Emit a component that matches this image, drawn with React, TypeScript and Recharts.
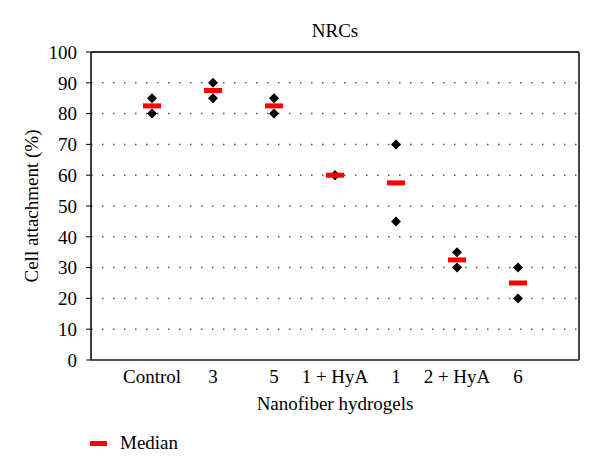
import React from 'react';
import {
  ScatterChart,
  Scatter,
  XAxis,
  YAxis,
  CartesianGrid,
  ReferenceLine,
  Legend,
} from 'recharts';

const categories = ['Control', '3', '5', '1 + HyA', '1', '2 + HyA', '6'];
const upperValues = [85, 90, 85, 60, 70, 35, 30];
const lowerValues = [80, 85, 80, 60, 45, 30, 20];
const medianValues = [82.5, 87.5, 82.5, 60, 57.5, 32.5, 25];
const yTicks = [0, 10, 20, 30, 40, 50, 60, 70, 80, 90, 100];
const xTicks = [1, 2, 3, 4, 5, 6, 7];

// two measurements per hydrogel, medians drawn as red bars
const observations = categories.flatMap((_, i) => [
  { x: i + 1, y: upperValues[i] },
  { x: i + 1, y: lowerValues[i] },
]);
const medians = categories.map((_, i) => ({ x: i + 1, y: medianValues[i] }));

const FONT = 'Liberation Serif';

const Diamond = (props: any) => {
  const { cx, cy } = props;
  const r = 5;
  return (
    <polygon
      points={`${cx},${cy - r} ${cx + r},${cy} ${cx},${cy + r} ${cx - r},${cy}`}
      fill="#000"
    />
  );
};

const MedianBar = (props: any) => {
  const { cx, cy } = props;
  return <rect x={cx - 9} y={cy - 2.5} width={18} height={5} fill="#ff0000" />;
};

const MedianLegend = () => (
  <div
    style={{
      display: 'flex',
      alignItems: 'center',
      height: 22,
      fontFamily: FONT,
      fontSize: 19,
      color: '#000',
    }}
  >
    <span
      style={{
        display: 'inline-block',
        width: 17,
        height: 5,
        background: '#ff0000',
        marginRight: 13,
      }}
    />
    Median
  </div>
);

const App = () => {
  return (
    <div style={{ width: 600, height: 476, background: '#fff' }}>
      <style>{'body { margin: 0; }'}</style>
      <ScatterChart
        width={600}
        height={476}
        margin={{ top: 52, right: 21, left: 0, bottom: 0 }}
      >
        <CartesianGrid
          vertical={false}
          stroke="#555"
          strokeWidth={1.5}
          strokeDasharray="1.5 9.5"
        />
        <XAxis
          type="number"
          dataKey="x"
          domain={[0, 8]}
          ticks={xTicks}
          tickFormatter={(v) => categories[v - 1] ?? ''}
          interval={0}
          tickLine={false}
          tickSize={0}
          tickMargin={10}
          height={94}
          axisLine={{ stroke: '#555', strokeWidth: 2 }}
          tick={{ fontSize: 19, fill: '#000', fontFamily: FONT }}
          label={{
            value: 'Nanofiber hydrogels',
            position: 'insideTop',
            offset: 37,
            fontSize: 19,
            fill: '#000',
            style: { fontFamily: FONT },
          }}
        />
        <YAxis
          type="number"
          dataKey="y"
          domain={[0, 100]}
          ticks={yTicks}
          interval={0}
          width={91}
          tickSize={5}
          tickMargin={9}
          tickLine={{ stroke: '#000' }}
          axisLine={{ stroke: '#000', strokeWidth: 1.5 }}
          tick={{ fontSize: 19, fill: '#000', fontFamily: FONT }}
          label={{
            value: 'Cell attachment (%)',
            angle: -90,
            position: 'insideLeft',
            offset: 31,
            fontSize: 19,
            fill: '#000',
            style: { textAnchor: 'middle', fontFamily: FONT },
          }}
        />
        <ReferenceLine
          y={100}
          stroke="#333"
          strokeWidth={2}
          label={{
            value: 'NRCs',
            position: 'top',
            offset: 15,
            fontSize: 19,
            fill: '#000',
            style: { fontFamily: FONT },
          }}
        />
        <ReferenceLine x={8} stroke="#444" strokeWidth={2} />
        <Legend
          verticalAlign="bottom"
          content={<MedianLegend />}
          wrapperStyle={{ left: 90, top: 432, bottom: 'auto', width: 'auto' }}
        />
        <Scatter
          name="Values"
          data={observations}
          shape={<Diamond />}
          legendType="none"
          isAnimationActive={false}
        />
        <Scatter
          name="Median"
          data={medians}
          shape={<MedianBar />}
          isAnimationActive={false}
        />
      </ScatterChart>
    </div>
  );
};

export default App;
